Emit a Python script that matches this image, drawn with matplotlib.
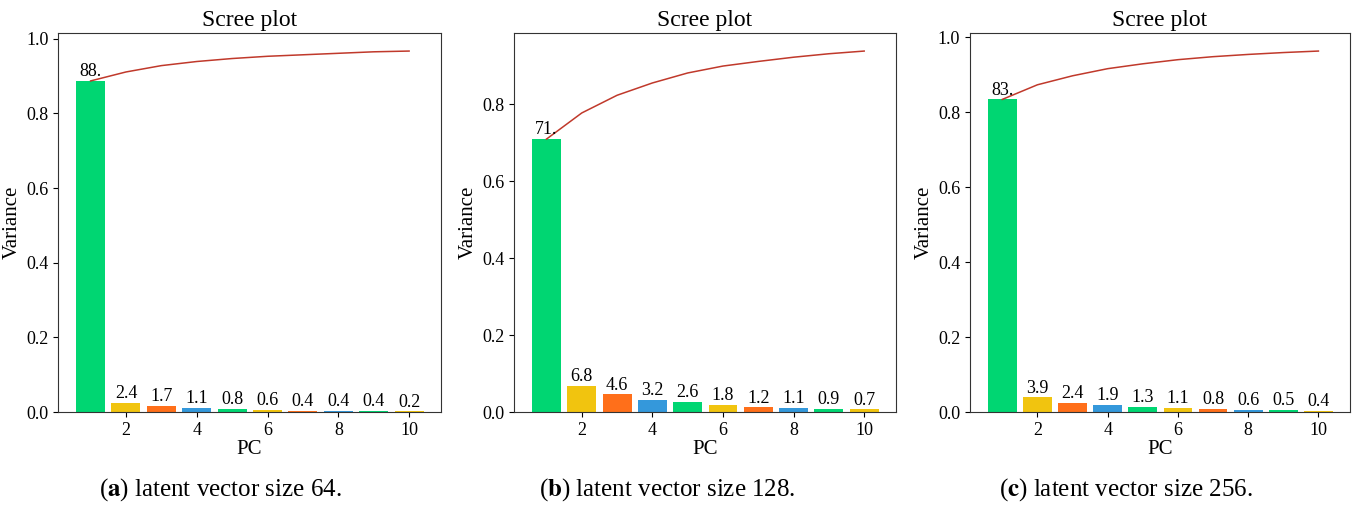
import numpy as np
import matplotlib
matplotlib.use("Agg")
import matplotlib.pyplot as plt

plt.rcParams['font.family'] = ['Liberation Serif', 'DejaVu Serif']
plt.rcParams['mathtext.fontset'] = 'stix'

# 解释方差比（每个面板前10个主成分）
pcs = np.arange(1, 11)
var_64 = [0.887, 0.024, 0.017, 0.011, 0.008, 0.006, 0.004, 0.004, 0.004, 0.002]
var_128 = [0.710, 0.068, 0.046, 0.032, 0.026, 0.018, 0.012, 0.011, 0.009, 0.007]
var_256 = [0.834, 0.039, 0.024, 0.019, 0.013, 0.011, 0.008, 0.006, 0.005, 0.004]
labels_64 = ['88.', '2.4', '1.7', '1.1', '0.8', '0.6', '0.4', '0.4', '0.4', '0.2']
labels_128 = ['71.', '6.8', '4.6', '3.2', '2.6', '1.8', '1.2', '1.1', '0.9', '0.7']
labels_256 = ['83.', '3.9', '2.4', '1.9', '1.3', '1.1', '0.8', '0.6', '0.5', '0.4']
captions = [r'($\mathbf{a}$) latent vector size 64.',
            r'($\mathbf{b}$) latent vector size 128.',
            r'($\mathbf{c}$) latent vector size 256.']

bar_colors = ['#00d672', '#f1c40f', '#ff6f1a', '#3498db']
line_color = '#c0392b'

fig = plt.figure(figsize=(13.53, 5.11), dpi=100)
lefts = [0.0429, 0.3799, 0.7169]
widths = [0.283, 0.2823, 0.2809]
caption_x = [0.1626, 0.493, 0.832]

panels = [(var_64, labels_64), (var_128, labels_128), (var_256, labels_256)]
for i, (vals, labs) in enumerate(panels):
	ax = fig.add_axes([lefts[i], 0.1937, widths[i], 0.7417])
	cols = [bar_colors[k % 4] for k in range(len(vals))]
	ax.bar(pcs, vals, width=0.82, color=cols)
	ax.plot(pcs, np.cumsum(vals), color=line_color, linewidth=1.1)
	for x, v, t in zip(pcs, vals, labs):
		ax.text(x, v + 0.002, t, ha='center', va='bottom', fontsize=13)
	ax.set_xlim(0.08, 10.9)
	ax.set_xticks([2, 4, 6, 8, 10])
	ax.tick_params(labelsize=13)
	ax.set_title('Scree plot', fontsize=17, pad=5)
	ax.set_xlabel('PC', fontsize=15, labelpad=1)
	ax.set_ylabel('Variance', fontsize=15, labelpad=3)
	for s in ax.spines.values():
		s.set_color('#333333')
	fig.text(caption_x[i], 0.041, captions[i], ha='center', va='center', fontsize=18)

fig.savefig('out.png', dpi=100)
